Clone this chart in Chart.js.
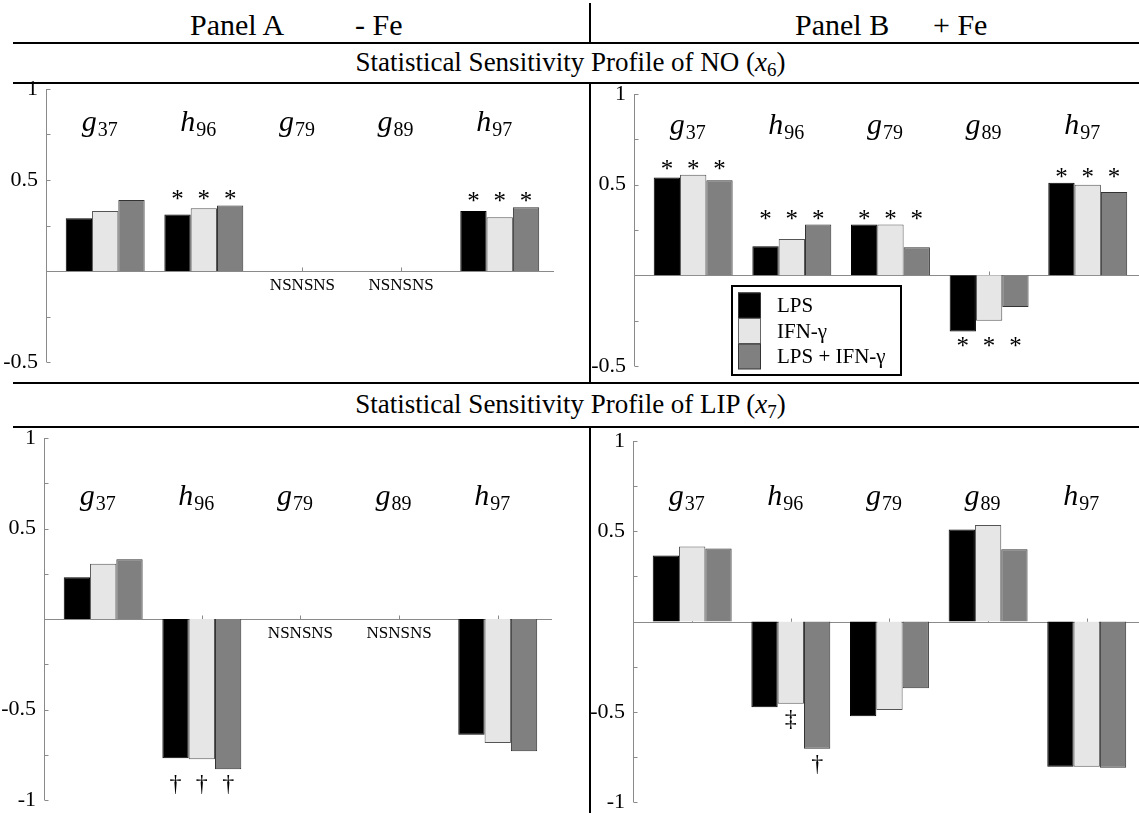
<!DOCTYPE html>
<html>
<head>
<meta charset="utf-8">
<script src="https://cdn.jsdelivr.net/npm/chart.js@4.4.0/dist/chart.umd.min.js"></script>
<style>
  html, body { margin: 0; padding: 0; background: #fff; overflow: hidden; }
  #page { position: relative; width: 1139px; height: 813px; overflow: hidden;
          font-family: 'Liberation Serif', 'Times New Roman', serif; color: #000; }
  .rule { position: absolute; left: 13px; right: 0; height: 2px; background: #000; z-index: 2; }
  .vrule { position: absolute; left: 589px; width: 2px; background: #000; z-index: 2; }
  .txt { position: absolute; white-space: nowrap; line-height: 1; font-size: 30px; }
  .title { position: absolute; left: 0; width: 1141px; text-align: center; font-size: 27px; line-height: 1; white-space: nowrap; }
  .sub { font-size: 19px; position: relative; top: 5px; }
  canvas { position: absolute; z-index: 1; }
</style>
</head>
<body>
<div id="page">
  <div class="txt" style="left:190px; top:10px">Panel A</div>
  <div class="txt" style="left:355px; top:10px">- Fe</div>
  <div class="txt" style="left:795px; top:10px">Panel B</div>
  <div class="txt" style="left:933px; top:10px">+ Fe</div>

  <div class="vrule" style="top:3px; height:40px"></div>
  <div class="rule" style="top:42px"></div>
  <div class="title" style="top:49px">Statistical Sensitivity Profile of NO (<i>x</i><span class="sub">6</span>)</div>
  <div class="rule" style="top:82px"></div>
  <div class="vrule" style="top:84px; height:299px"></div>
  <div class="rule" style="top:382px"></div>
  <div class="title" style="top:391px">Statistical Sensitivity Profile of LIP (<i>x</i><span class="sub">7</span>)</div>
  <div class="rule" style="top:426px"></div>
  <div class="vrule" style="top:428px; height:385px"></div>

  <canvas id="noMinus" width="554" height="301" style="left:0px; top:75px"></canvas>
  <canvas id="noPlus" width="552" height="300" style="left:590px; top:80px"></canvas>
  <canvas id="lipMinus" width="552" height="390" style="left:0px; top:424px"></canvas>
  <canvas id="lipPlus" width="551" height="389" style="left:590px; top:427px"></canvas>
</div>

<script>
// categories (letter + subscript) and series
const catLetters = ['g', 'h', 'g', 'g', 'h'];
const catSubs = ['37', '96', '79', '89', '97'];
const seriesNames = ['LPS', 'IFN-γ', 'LPS + IFN-γ'];

// NO (x6), panel A (- Fe)
const noMinusLPS  = [0.29, 0.31, 0, 0, 0.33];
const noMinusIFN  = [0.33, 0.345, 0, 0, 0.295];
const noMinusBoth = [0.39, 0.36, 0, 0, 0.35];
// NO (x6), panel B (+ Fe)
const noPlusLPS  = [0.54, 0.16, 0.28, -0.31, 0.51];
const noPlusIFN  = [0.555, 0.20, 0.28, -0.25, 0.50];
const noPlusBoth = [0.525, 0.28, 0.155, -0.175, 0.46];
// LIP (x7), panel A (- Fe)
const lipMinusLPS  = [0.23, -0.77, 0, 0, -0.64];
const lipMinusIFN  = [0.305, -0.775, 0, 0, -0.685];
const lipMinusBoth = [0.33, -0.83, 0, 0, -0.73];
// LIP (x7), panel B (+ Fe)
const lipPlusLPS  = [0.365, -0.475, -0.525, 0.51, -0.805];
const lipPlusIFN  = [0.415, -0.455, -0.49, 0.535, -0.805];
const lipPlusBoth = [0.405, -0.705, -0.37, 0.40, -0.81];

// significance marks, one row per series
const noMinusMarks = [
  ['', '*', 'NS', 'NS', '*'],
  ['', '*', 'NS', 'NS', '*'],
  ['', '*', 'NS', 'NS', '*']
];
const noPlusMarks = [
  ['*', '*', '*', '*', '*'],
  ['*', '*', '*', '*', '*'],
  ['*', '*', '*', '*', '*']
];
const lipMinusMarks = [
  ['', '†', 'NS', 'NS', ''],
  ['', '†', 'NS', 'NS', ''],
  ['', '†', 'NS', 'NS', '']
];
const lipPlusMarks = [
  ['', '', '', '', ''],
  ['', '‡', '', '', ''],
  ['', '†', '', '', '']
];

// labelled y ticks
const topTickLabels = [1, 0.5, -0.5];
const bottomTickLabels = [1, 0.5, -0.5, -1];

const fills = ['#000000', '#e6e6e6', '#808080'];
const edges = ['#000000', '#555555', '#333333'];
const axisGray = '#8a8a8a';
const serif = "'Liberation Serif', 'Times New Roman', serif";

const panelDecor = {
  id: 'panelDecor',
  beforeDatasetsDraw(chart) {
    const { ctx, chartArea: a, scales: { x, y } } = chart;
    ctx.save();
    ctx.strokeStyle = axisGray;
    ctx.lineWidth = 1;
    ctx.beginPath();
    // y axis line + inward ticks
    const ax = Math.round(a.left) + 0.5;
    ctx.moveTo(ax, a.top);
    ctx.lineTo(ax, a.bottom);
    y.ticks.forEach(t => {
      const py = Math.round(y.getPixelForValue(t.value)) + 0.5;
      ctx.moveTo(ax, py);
      ctx.lineTo(ax + 4, py);
    });
    // zero line + category ticks
    const y0 = Math.round(y.getPixelForValue(0)) + 0.5;
    ctx.moveTo(a.left, y0);
    ctx.lineTo(a.right, y0);
    catLetters.forEach((c, i) => {
      const px = Math.round(x.getPixelForValue(i + 1)) + 0.5;
      ctx.moveTo(px, y0);
      ctx.lineTo(px, y0 - 4);
    });
    ctx.stroke();
    ctx.restore();
  },
  afterDatasetsDraw(chart, args, opts) {
    const { ctx, scales: { x, y } } = chart;
    ctx.save();
    ctx.fillStyle = '#000';

    // category labels: italic letter with upright subscript
    const baseY = y.getPixelForValue(opts.labelY);
    catLetters.forEach((c, i) => {
      ctx.font = 'italic 30px ' + serif;
      const wl = ctx.measureText(c).width;
      ctx.font = '20px ' + serif;
      const ws = ctx.measureText(catSubs[i]).width;
      const left = x.getPixelForValue(i + 1) - 6 - (wl + ws) / 2;
      ctx.font = 'italic 30px ' + serif;
      ctx.textAlign = 'left';
      ctx.textBaseline = 'alphabetic';
      ctx.fillText(c, left, baseY);
      ctx.font = '20px ' + serif;
      ctx.fillText(catSubs[i], left + wl + 1, baseY + 5);
    });

    // significance marks
    const metas = chart.data.datasets.map((d, k) => chart.getDatasetMeta(k));
    const y0 = y.getPixelForValue(0);
    catLetters.forEach((c, i) => {
      const types = opts.marks.map(row => row[i]);
      const kinds = new Set(types.filter(Boolean));
      const perBar = kinds.size > 1;
      const bars = metas.map(m => m.data[i]);
      const vals = chart.data.datasets.map(d => d.data[i].y);
      const groupUp = vals.reduce((s, v) => s + v, 0) >= 0;
      const groupEdge = groupUp ? Math.min(...bars.map(b => b.y)) : Math.max(...bars.map(b => b.y));
      const groupMid = x.getPixelForValue(i + 1);
      types.forEach((t, k) => {
        if (!t) return;
        ctx.textAlign = 'center';
        ctx.textBaseline = 'alphabetic';
        if (t === 'NS') {
          ctx.font = '17px ' + serif;
          const m = ctx.measureText('NS');
          const cy = y0 + 13;
          ctx.fillText('NS', groupMid + (k - 1) * m.width, cy + (m.actualBoundingBoxAscent - m.actualBoundingBoxDescent) / 2);
          return;
        }
        const up = perBar ? vals[k] >= 0 : groupUp;
        const edge = perBar ? bars[k].y : groupEdge;
        const bx = bars[k].x;
        if (t === '*') {
          ctx.font = '25px ' + serif;
          const m = ctx.measureText('*');
          const cy = up ? edge - 10 : edge + 10;
          ctx.fillText('*', bx, cy + (m.actualBoundingBoxAscent - m.actualBoundingBoxDescent) / 2);
        } else {
          ctx.font = '24px ' + serif;
          const m = ctx.measureText(t);
          if (up) {
            ctx.fillText(t, bx, edge - 6 - m.actualBoundingBoxDescent);
          } else {
            ctx.fillText(t, bx, edge + 6 + m.actualBoundingBoxAscent);
          }
        }
      });
    });

    // legend box
    if (opts.legend) {
      const a = chart.chartArea;
      const L = opts.legend;
      const bx = a.left + L.dx, by = a.top + L.dy;
      ctx.fillStyle = '#fff';
      ctx.fillRect(bx, by, L.w, L.h);
      ctx.lineWidth = 2;
      ctx.strokeStyle = '#000';
      ctx.strokeRect(bx, by, L.w, L.h);
      chart.data.datasets.forEach((d, k) => {
        const sy = by + 6.5 + k * 25.5;
        ctx.fillStyle = d.backgroundColor;
        ctx.fillRect(bx + 6, sy, 22, 25.5);
        ctx.lineWidth = 1;
        ctx.strokeStyle = k === 1 ? '#666' : '#333';
        ctx.strokeRect(bx + 6.5, sy + 0.5, 22, 25);
        ctx.fillStyle = '#000';
        ctx.font = '21px ' + serif;
        ctx.textAlign = 'left';
        ctx.textBaseline = 'middle';
        ctx.fillText(d.label, bx + 45, sy + 14);
      });
    }
    ctx.restore();
  }
};

function makePanel(id, series, marks, cfg) {
  return new Chart(document.getElementById(id), {
    type: 'bar',
    data: {
      datasets: series.map((vals, k) => ({
        label: seriesNames[k],
        data: vals.map((v, i) => ({ x: i + 1, y: v })),
        backgroundColor: fills[k],
        borderColor: edges[k],
        borderWidth: 1,
        categoryPercentage: 0.8,
        barPercentage: 1.0
      }))
    },
    options: {
      responsive: false,
      animation: false,
      events: [],
      layout: { padding: { top: 14, bottom: 14, left: 0, right: 0 } },
      plugins: {
        legend: { display: false },
        tooltip: { enabled: false },
        panelDecor: { labelY: cfg.labelY, marks: marks, legend: cfg.legend || null }
      },
      scales: {
        x: {
          type: 'linear', min: 0.4, max: 5.55, offset: false, display: false,
          // one tick per category so the bar width follows the category spacing
          afterBuildTicks: s => { s.ticks = catLetters.map((c, i) => ({ value: i + 1 })); }
        },
        y: {
          min: cfg.yMin,
          max: 1,
          afterFit: s => { s.width = cfg.axisW; s.paddingTop = 0; s.paddingBottom = 0; },
          grid: { display: false, drawTicks: false },
          border: { display: false },
          ticks: {
            stepSize: 0.25,
            autoSkip: false,
            padding: 8,
            color: '#000',
            font: { family: serif, size: 22 },
            callback: v => cfg.tickLabels.includes(v) ? String(v) : ''
          }
        }
      }
    },
    plugins: [panelDecor]
  });
}

makePanel('noMinus', [noMinusLPS, noMinusIFN, noMinusBoth], noMinusMarks,
  { yMin: -0.5, axisW: 46, labelY: 0.77, tickLabels: topTickLabels });
makePanel('noPlus', [noPlusLPS, noPlusIFN, noPlusBoth], noPlusMarks,
  { yMin: -0.5, axisW: 44, labelY: 0.78, tickLabels: topTickLabels,
    legend: { dx: 98, dy: 192, w: 169, h: 89 } });
makePanel('lipMinus', [lipMinusLPS, lipMinusIFN, lipMinusBoth], lipMinusMarks,
  { yMin: -1, axisW: 44, labelY: 0.63, tickLabels: bottomTickLabels });
makePanel('lipPlus', [lipPlusLPS, lipPlusIFN, lipPlusBoth], lipPlusMarks,
  { yMin: -1, axisW: 43, labelY: 0.645, tickLabels: bottomTickLabels });
</script>
</body>
</html>
